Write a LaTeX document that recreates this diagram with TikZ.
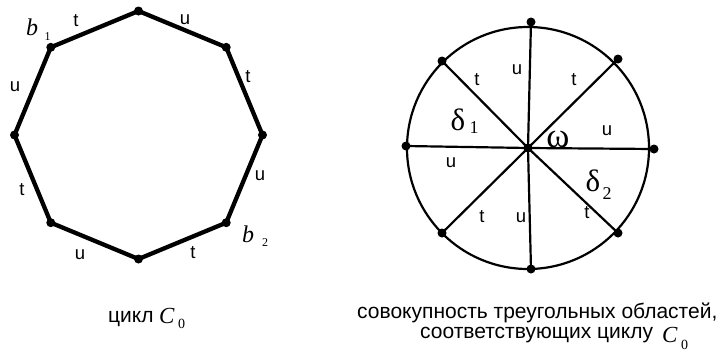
\documentclass[tikz,border=0pt]{standalone}
\usepackage{fontspec}
\setmainfont{Liberation Serif}
\setsansfont{Liberation Sans}
\newfontfamily\lsans{Liberation Sans}
\begin{document}
\begin{tikzpicture}[x=1pt,y=-1pt,
  edge/.style={line width=4.3pt,line join=round},
  ray/.style={line width=2.2pt},
  vdot/.style={circle,fill=black,inner sep=0pt,minimum size=9pt},
  lbl/.style={inner sep=0pt,font=\lsans\fontsize{18.5}{18.5}\selectfont},
  ital/.style={inner sep=0pt,font=\fontsize{24}{24}\selectfont\itshape},
  subs/.style={inner sep=0pt,font=\fontsize{12}{12}\selectfont},
  greek/.style={inner sep=0pt,font=\fontsize{31}{31}\selectfont},
  omg/.style={inner sep=0pt,font=\fontsize{35}{35}\selectfont},
  gsub/.style={inner sep=0pt,font=\fontsize{18}{18}\selectfont},
  captext/.style={inner sep=0pt,anchor=base west,font=\lsans\fontsize{21}{21}\selectfont},
  capC/.style={inner sep=0pt,anchor=base west,font=\fontsize{23}{23}\selectfont\itshape},
  capsub/.style={inner sep=0pt,anchor=base west,font=\fontsize{14}{14}\selectfont}]
\useasboundingbox[fill=white] (0,0) rectangle (721,351);
% left octagon
\node[vdot] (A) at (138.5,11) {};
\node[vdot] (B) at (226.2,47.3) {};
\node[vdot] (C) at (262.5,135) {};
\node[vdot] (D) at (226.2,222.7) {};
\node[vdot] (E) at (138.5,259) {};
\node[vdot] (F) at (50.8,222.7) {};
\node[vdot] (G) at (14.5,135) {};
\node[vdot] (H) at (50.8,47.3) {};
\draw[edge] (A.center) -- (B.center) -- (C.center) -- (D.center) -- (E.center) -- (F.center) -- (G.center) -- (H.center) -- cycle;
\node[ital] (b1) at (32,27) {b};
\node[subs] (b1s) at (47.5,36.5) {1};
\node[ital] (b2) at (248,234) {b};
\node[subs] (b2s) at (265,243) {2};
\node[lbl] (l1) at (76,21) {t};
\node[lbl] (l2) at (185,20) {u};
\node[lbl] (l3) at (248,77) {t};
\node[lbl] (l4) at (15,87) {u};
\node[lbl] (l5) at (22,190) {t};
\node[lbl] (l6) at (260,176) {u};
\node[lbl] (l7) at (80,255) {u};
\node[lbl] (l8) at (193,253) {t};
% right circle
\coordinate (O) at (528,148);
\draw[ray] (O) circle[radius=121];
\node[vdot] (P0) at (654,149) {};
\node[vdot] (P1) at (618,59) {};
\node[vdot] (P2) at (531,22) {};
\node[vdot] (P3) at (442,61) {};
\node[vdot] (P4) at (406,146) {};
\node[vdot] (P5) at (442,233) {};
\node[vdot] (P6) at (531,269) {};
\node[vdot] (P7) at (618,233) {};
\node[vdot] (Oc) at (O) {};
\foreach \p in {P0,P1,P2,P3,P4,P5,P6,P7} \draw[ray] (Oc.center) -- (\p.center);
\node[lbl] (r1) at (517,70) {u};
\node[lbl] (r2) at (477,80) {t};
\node[lbl] (r3) at (574,80) {t};
\node[lbl] (r4) at (607,131) {u};
\node[lbl] (r5) at (451,163) {u};
\node[lbl] (r6) at (482,217) {t};
\node[lbl] (r7) at (521,218) {u};
\node[lbl] (r8) at (587,213) {t};
\node[greek] (d1) at (458,120) {δ};
\node[gsub] (d1s) at (474,128) {1};
\node[greek] (d2) at (593,181) {δ};
\node[gsub] (d2s) at (607,194) {2};
\node[omg] (om) at (558,139) {ω};
% captions
\node[captext] (c1) at (108,322) {цикл};
\node[capC] (c1C) at (159,323) {C};
\node[capsub] (c1s) at (178,328) {0};
\node[captext] (c2) at (357,318) {совокупность треугольных областей,};
\node[captext] (c3) at (420,338) {соответствующих циклу};
\node[capC] (c3C) at (662,342) {C};
\node[capsub] (c3s) at (681,349) {0};
\end{tikzpicture}
\end{document}
